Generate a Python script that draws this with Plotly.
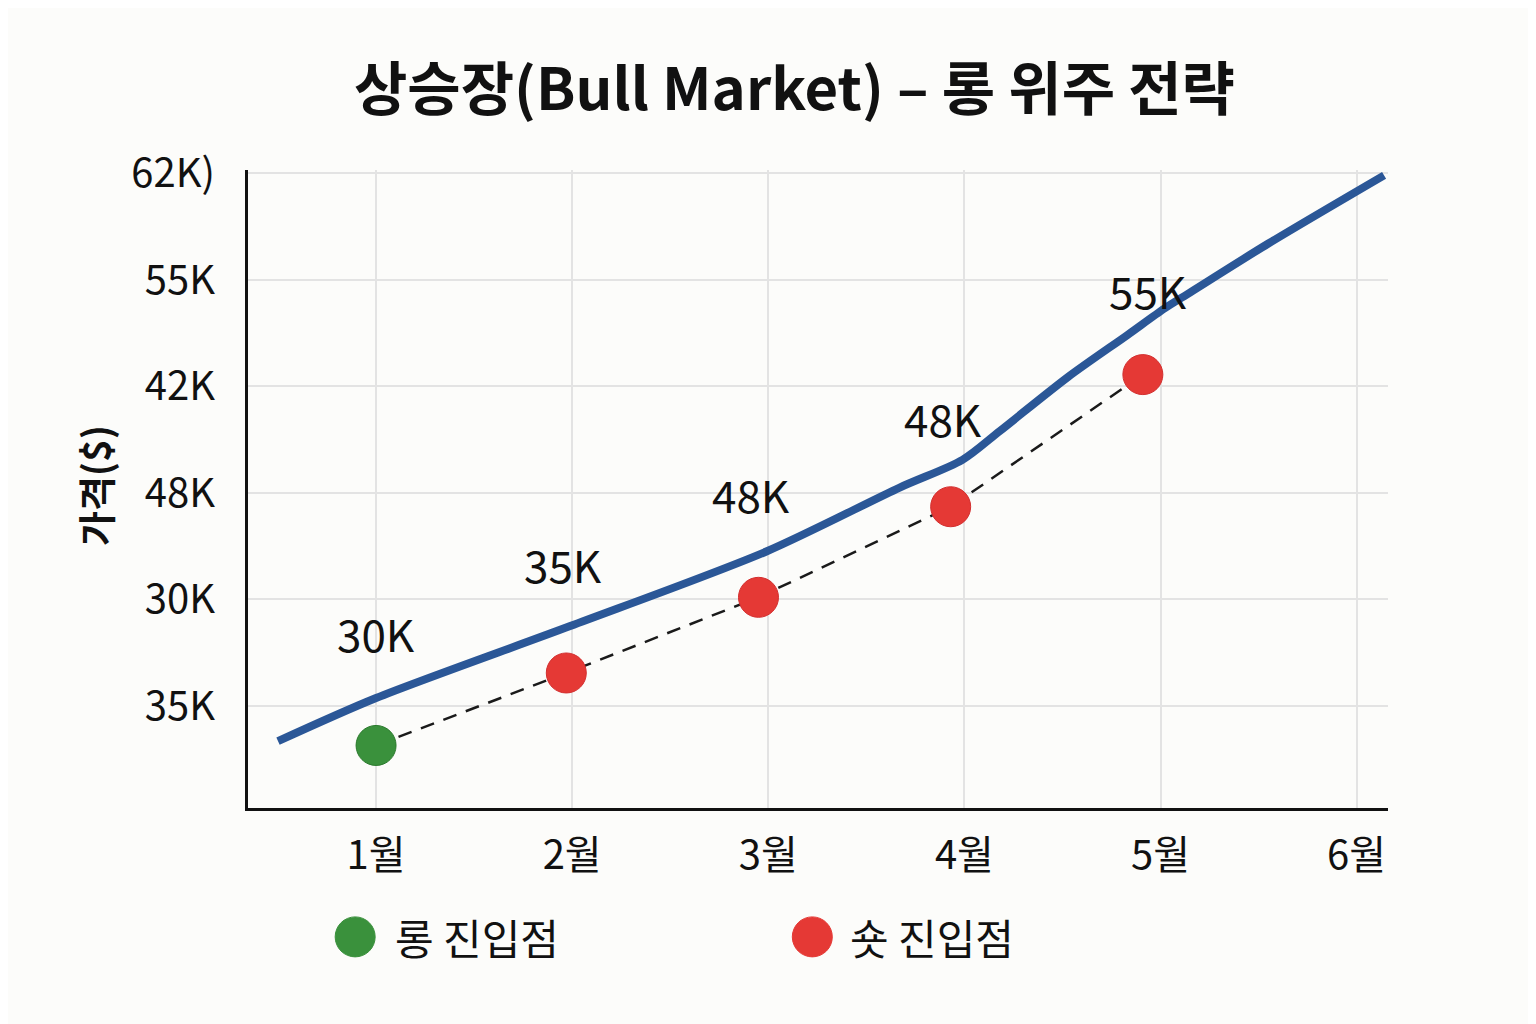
import plotly.graph_objects as go

# y positions are tick slots (0 = bottom gridline); the reference labels them out of order
y_tick_pos = [0, 1, 2, 3, 4, 5]
y_tick_text = ["35K", "30K", "48K", "42K", "55K", "62K)"]

months = ["1월", "2월", "3월", "4월", "5월", "6월"]
month_pos = [1, 2, 3, 4, 5, 6]

# price trend line
trend_x = [0.5, 1.0, 1.99, 2.99, 3.67, 3.99, 4.18, 4.53, 4.83, 5.02, 5.15, 5.55, 6.14]
trend_y = [-0.33, 0.075, 0.75, 1.45, 2.05, 2.31, 2.58, 3.09, 3.48, 3.73, 3.88, 4.34, 4.98]

# entry points
entry_x = [1.0, 1.97, 2.95, 3.93, 4.91]
entry_y = [-0.37, 0.31, 1.02, 1.87, 3.11]
entry_kind = ["long", "short", "short", "short", "short"]

# value labels above points
label_text = ["30K", "35K", "48K", "48K", "55K"]
label_x = [1.0, 1.954, 2.913, 3.893, 4.934]
label_y = [0.685, 1.33, 1.99, 2.70, 3.90]

FONT = "Noto Sans CJK KR"
BLUE = "#2b5797"
GREEN = "#3a913c"
RED = "#e53935"

fig = go.Figure()

fig.add_trace(go.Scatter(
    x=trend_x, y=trend_y, mode="lines",
    line=dict(color=BLUE, width=8, shape="spline", smoothing=0.8),
    showlegend=False, hoverinfo="skip",
))

fig.add_trace(go.Scatter(
    x=entry_x, y=entry_y, mode="lines",
    line=dict(color="#1a1a1a", width=2.5, dash="14px,10px"),
    showlegend=False, hoverinfo="skip",
))

long_x = [x for x, k in zip(entry_x, entry_kind) if k == "long"]
long_y = [y for y, k in zip(entry_y, entry_kind) if k == "long"]
short_x = [x for x, k in zip(entry_x, entry_kind) if k == "short"]
short_y = [y for y, k in zip(entry_y, entry_kind) if k == "short"]

fig.add_trace(go.Scatter(
    x=long_x, y=long_y, mode="markers", name="롱 진입점",
    marker=dict(color=GREEN, size=40, line=dict(color="#2a7a2c", width=1)),
    showlegend=False,
))
fig.add_trace(go.Scatter(
    x=short_x, y=short_y, mode="markers", name="숏 진입점",
    marker=dict(color=RED, size=40, line=dict(color="#d32f2f", width=1)),
    showlegend=False,
))

for t, x, y in zip(label_text, label_x, label_y):
    fig.add_annotation(x=x, y=y, text=t, showarrow=False,
                       font=dict(family=FONT, size=44, color="#111"))

# legend drawn by hand so the circles can be as large as in the reference
legend_items = [("롱 진입점", GREEN, 0.094, 0.127), ("숏 진입점", RED, 0.495, 0.526)]
for name, color, cx, tx in legend_items:
    fig.add_shape(type="circle", xref="paper", yref="paper",
                  xsizemode="pixel", ysizemode="pixel",
                  xanchor=cx, yanchor=-0.202,
                  x0=-20, x1=20, y0=-20, y1=20,
                  fillcolor=color, line=dict(color=color, width=1))
    fig.add_annotation(xref="paper", yref="paper", x=tx, y=-0.202,
                       xanchor="left", yanchor="middle", text=name,
                       showarrow=False,
                       font=dict(family=FONT, size=42, color="#111"))

fig.add_annotation(xref="paper", yref="paper", x=-0.134, y=0.505,
                   xanchor="center", yanchor="middle",
                   text="<b>가격($)</b>", textangle=-90, showarrow=False,
                   font=dict(family=FONT, size=38, color="#111"))

# the page adds an 8px body margin, so margins are shifted to compensate
fig.update_layout(
    width=1536, height=1024,
    paper_bgcolor="#fcfcfa", plot_bgcolor="#fcfcfa",
    margin=dict(l=240, r=156, t=162, b=224),
    title=dict(text="<b>상승장(Bull Market) – 롱 위주 전략</b>",
               x=0.512, xanchor="center", y=0.92, yanchor="middle",
               font=dict(family=FONT, size=58, color="#111")),
    font=dict(family=FONT, color="#111"),
)

fig.update_xaxes(
    range=[0.347, 6.16], tickvals=month_pos, ticktext=months,
    showgrid=True, gridcolor="#e3e3e3", gridwidth=2,
    showline=True, linecolor="#111", linewidth=3,
    ticks="", ticklabelstandoff=10, zeroline=False,
    tickfont=dict(family=FONT, size=40, color="#111"),
)
fig.update_yaxes(
    range=[-0.957, 5.03], tickvals=y_tick_pos, ticktext=y_tick_text,
    showgrid=True, gridcolor="#e3e3e3", gridwidth=2,
    showline=True, linecolor="#111", linewidth=3,
    ticks="", ticklabelstandoff=22, zeroline=False,
    tickfont=dict(family=FONT, size=40, color="#111"),
)

fig.write_html("out.html")
